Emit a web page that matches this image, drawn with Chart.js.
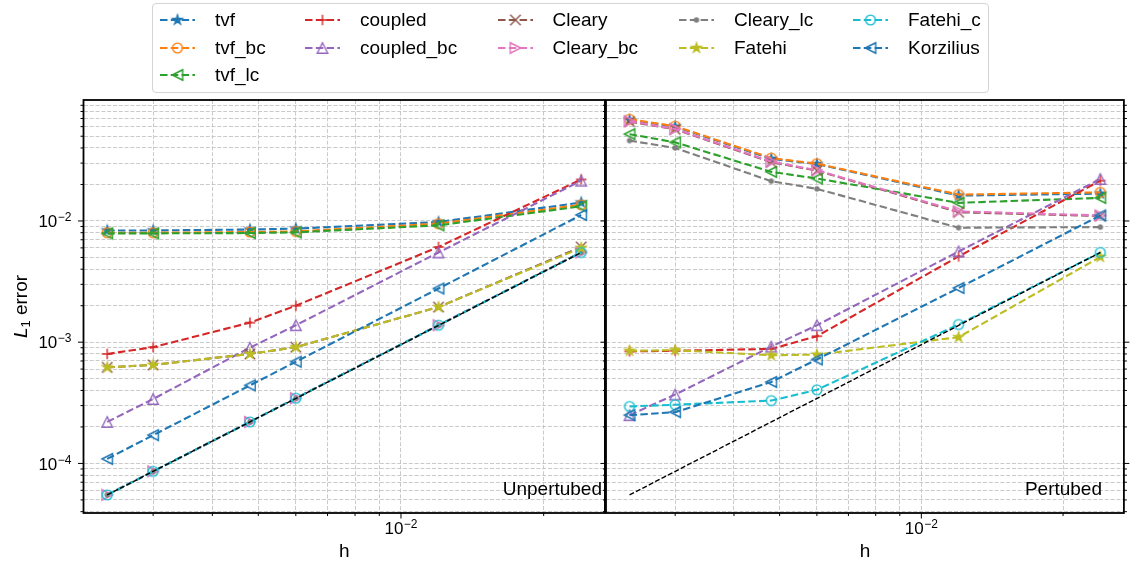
<!DOCTYPE html>
<html>
<head>
<meta charset="utf-8">
<title>L1 error vs h</title>
<script src="https://cdn.jsdelivr.net/npm/chart.js@4.4.1/dist/chart.umd.min.js"></script>
<style>
  body { margin: 0; background: #fff; }
  #wrap { position: relative; width: 1131px; height: 566px; overflow: hidden; font-family: "Liberation Sans", Arial, sans-serif; }
  #leftChart { position: absolute; left: 0; top: 0; }
  #rightChart { position: absolute; left: 596px; top: 0; }
  #legend { position: absolute; left: 152px; top: 3px; width: 837px; height: 90px; box-sizing: border-box;
            border: 1px solid #d4d4d4; border-radius: 4px; background: rgba(255,255,255,0.85); }
  .lg-item { position: absolute; width: 200px; height: 20px; }
  .lg-item canvas { position: absolute; left: 0; top: 0; }
  .lg-item span { position: absolute; left: 55px; top: 0.4px; font-size: 19px; line-height: 19px; white-space: nowrap; color: #000; }
</style>
</head>
<body>
<div id="wrap">
  <canvas id="leftChart" width="612" height="566"></canvas>
  <canvas id="rightChart" width="535" height="566"></canvas>
  <div id="legend"></div>
</div>
<script>
// grid spacing h
const hValues = [0.0024, 0.003, 0.0048, 0.006, 0.012, 0.024];

const seriesNames = ['tvf', 'tvf_bc', 'tvf_lc', 'coupled', 'coupled_bc', 'Cleary',
                     'Cleary_bc', 'Cleary_lc', 'Fatehi', 'Fatehi_c', 'Korzilius'];

// L1 error, unperturbed particles
const tvfU        = [8.35e-3, 8.35e-3, 8.5e-3, 8.65e-3, 9.8e-3, 1.42e-2];
const tvfBcU      = [8.0e-3, 8.0e-3, 8.1e-3, 8.2e-3, 9.5e-3, 1.36e-2];
const tvfLcU      = [7.9e-3, 7.9e-3, 7.95e-3, 8.05e-3, 9.2e-3, 1.32e-2];
const coupledU    = [8.0e-4, 9.1e-4, 1.45e-3, 2.0e-3, 6.1e-3, 2.2e-2];
const coupledBcU  = [2.2e-4, 3.4e-4, 9.0e-4, 1.38e-3, 5.5e-3, 2.15e-2];
const clearyU     = [6.2e-4, 6.5e-4, 8.0e-4, 9.1e-4, 1.95e-3, 6.1e-3];
const clearyBcU   = [5.5e-5, 8.6e-5, 2.2e-4, 3.45e-4, 1.38e-3, 5.5e-3];
const clearyLcU   = [5.5e-5, 8.6e-5, 2.2e-4, 3.45e-4, 1.38e-3, 5.5e-3];
const fatehiU     = [6.2e-4, 6.5e-4, 8.0e-4, 9.1e-4, 1.95e-3, 6.0e-3];
const fatehiCU    = [5.5e-5, 8.6e-5, 2.2e-4, 3.45e-4, 1.38e-3, 5.5e-3];
const korziliusU  = [1.09e-4, 1.71e-4, 4.4e-4, 6.9e-4, 2.77e-3, 1.12e-2];

// L1 error, perturbed particles
const tvfP        = [0.068, 0.060, 0.0325, 0.0295, 0.0162, 0.0168];
const tvfBcP      = [0.069, 0.0605, 0.033, 0.0297, 0.0165, 0.0172];
const tvfLcP      = [0.052, 0.0445, 0.0254, 0.0224, 0.0141, 0.0155];
const coupledP    = [8.4e-4, 8.5e-4, 8.8e-4, 1.12e-3, 5.1e-3, 2.15e-2];
const coupledBcP  = [2.5e-4, 3.7e-4, 9.2e-4, 1.38e-3, 5.6e-3, 2.22e-2];
const clearyP     = [0.066, 0.057, 0.0305, 0.026, 0.0118, 0.011];
const clearyBcP   = [0.0664, 0.0574, 0.0309, 0.0262, 0.0120, 0.0111];
const clearyLcP   = [0.046, 0.040, 0.0213, 0.0184, 8.8e-3, 8.9e-3];
const fatehiP     = [8.5e-4, 8.6e-4, 7.8e-4, 7.9e-4, 1.1e-3, 5.05e-3];
const fatehiCP    = [2.95e-4, 3.05e-4, 3.3e-4, 4.05e-4, 1.4e-3, 5.5e-3];
const korziliusP  = [2.5e-4, 2.65e-4, 4.7e-4, 7.2e-4, 2.8e-3, 1.11e-2];

// second order reference slope
const refH   = [0.0024, 0.024];
const refErr = [5.5e-5, 5.5e-3];

// labelled decades
const yMajorTicks = [1e-4, 1e-3, 1e-2];
const xMajorTicks = [1e-2];

const X_MIN = 0.002139, X_MAX = 0.02693;
const Y_MIN = 3.9e-5, Y_MAX = 0.0995;

const seriesStyle = [
  { color: '#1f77b4', marker: 'star' },
  { color: '#ff7f0e', marker: 'circle' },
  { color: '#2ca02c', marker: 'triLeft' },
  { color: '#d62728', marker: 'plus' },
  { color: '#9467bd', marker: 'triUp' },
  { color: '#8c564b', marker: 'x' },
  { color: '#e377c2', marker: 'triRight' },
  { color: '#7f7f7f', marker: 'dot' },
  { color: '#bcbd22', marker: 'star' },
  { color: '#17becf', marker: 'circle' },
  { color: '#1f77b4', marker: 'triLeft' }
];

const FONT = '"Liberation Sans", Arial, sans-serif';
const GRID = '#c4c4c4';
const LINE_W = 2.1;
const LINE_DASH = [7.5, 3.3];

function markerCanvas(kind, color)
{
  const s = 18, m = s / 2, half = 5.25;
  const c = document.createElement('canvas');
  c.width = s; c.height = s;
  const g = c.getContext('2d');
  g.strokeStyle = color;
  g.fillStyle = color;
  g.lineWidth = 1.4;
  g.beginPath();
  switch (kind)
  {
    case 'star':
      for (let i = 0; i < 10; i++)
      {
        const r = i % 2 ? half * 0.382 : half;
        const a = -Math.PI / 2 + i * Math.PI / 5;
        g.lineTo(m + r * Math.cos(a), m + r * Math.sin(a));
      }
      g.closePath();
      g.fill();
      g.lineWidth = 1.2;
      g.stroke();
      break;
    case 'circle':
      g.arc(m, m, 4.9, 0, 2 * Math.PI);
      g.stroke();
      break;
    case 'dot':
      g.arc(m, m, 2.7, 0, 2 * Math.PI);
      g.fill();
      break;
    case 'triUp':
      g.moveTo(m, m - half); g.lineTo(m - half, m + half); g.lineTo(m + half, m + half);
      g.closePath(); g.stroke();
      break;
    case 'triLeft':
      g.moveTo(m - half, m); g.lineTo(m + half, m - half); g.lineTo(m + half, m + half);
      g.closePath(); g.stroke();
      break;
    case 'triRight':
      g.moveTo(m + half, m); g.lineTo(m - half, m - half); g.lineTo(m - half, m + half);
      g.closePath(); g.stroke();
      break;
    case 'plus':
      g.moveTo(m - half, m); g.lineTo(m + half, m);
      g.moveTo(m, m - half); g.lineTo(m, m + half);
      g.stroke();
      break;
    case 'x':
      g.moveTo(m - half, m - half); g.lineTo(m + half, m + half);
      g.moveTo(m + half, m - half); g.lineTo(m - half, m + half);
      g.stroke();
      break;
  }
  return c;
}

const markers = seriesStyle.map(s => markerCanvas(s.marker, s.color));

function isMajor(v)
{
  const l = Math.log10(v);
  return Math.abs(l - Math.round(l)) < 1e-9;
}

// 1..9 x 10^n inside the axis range
function logTicks(min, max)
{
  const ticks = [];
  for (let d = Math.floor(Math.log10(min)); d <= Math.ceil(Math.log10(max)); d++)
  {
    for (let k = 1; k <= 9; k++)
    {
      const v = Number((k * Math.pow(10, d)).toPrecision(6));
      if (v >= min && v <= max) ticks.push({ value: v, major: k === 1 });
    }
  }
  return ticks;
}

function buildDatasets(seriesValues)
{
  const sets = seriesValues.map((vals, i) => ({
    label: seriesNames[i],
    data: hValues.map((h, j) => ({ x: h, y: vals[j] })),
    borderColor: seriesStyle[i].color,
    backgroundColor: seriesStyle[i].color,
    borderWidth: LINE_W,
    borderDash: LINE_DASH,
    pointStyle: markers[i],
    pointRadius: 5,
    pointHoverRadius: 5,
    tension: 0,
    fill: false,
    order: 20 - i
  }));
  sets.push({
    label: 'ref',
    data: refH.map((h, j) => ({ x: h, y: refErr[j] })),
    borderColor: '#000',
    borderWidth: 1.4,
    borderDash: [5, 2.2],
    pointRadius: 0,
    fill: false,
    order: 0
  });
  return sets;
}

function drawPow(ctx, exp, x, yMid, align)
{
  const base = '10', sup = '\u2212' + Math.abs(exp);
  ctx.font = '17px ' + FONT;
  const wb = ctx.measureText(base).width;
  ctx.font = '12px ' + FONT;
  const we = ctx.measureText(sup).width;
  const total = wb + we + 0.5;
  const left = align === 'right' ? x - total : x - total / 2;
  ctx.textAlign = 'left';
  ctx.textBaseline = 'alphabetic';
  ctx.fillStyle = '#000';
  ctx.font = '17px ' + FONT;
  ctx.fillText(base, left, yMid + 6.1);
  ctx.font = '12px ' + FONT;
  ctx.fillText(sup, left + wb + 0.5, yMid + 0.3);
}

// frame, tick marks, tick labels, axis titles and panel tag
const panelFrame = {
  id: 'panelFrame',
  afterDraw(chart, args, opts)
  {
    const { ctx, chartArea: a } = chart;
    const xs = chart.scales.x, ys = chart.scales.y;
    ctx.save();
    ctx.strokeStyle = '#000';
    ctx.lineWidth = 1;
    ctx.beginPath();
    ys.ticks.forEach(t =>
    {
      const py = ys.getPixelForValue(t.value);
      const len = isMajor(t.value) ? 5.5 : 3;
      if (opts.leftTicks) { ctx.moveTo(a.left - len, py); ctx.lineTo(a.left, py); }
      if (opts.rightTicks) { ctx.moveTo(a.right, py); ctx.lineTo(a.right + len, py); }
    });
    xs.ticks.forEach(t =>
    {
      const px = xs.getPixelForValue(t.value);
      const len = isMajor(t.value) ? 5.5 : 3;
      ctx.moveTo(px, a.bottom); ctx.lineTo(px, a.bottom + len);
    });
    ctx.stroke();

    ctx.lineWidth = 1.8;
    ctx.strokeRect(a.left, a.top, a.right - a.left, a.bottom - a.top);

    if (opts.yLabels)
    {
      yMajorTicks.forEach(v => drawPow(ctx, Math.round(Math.log10(v)), a.left - 12, ys.getPixelForValue(v), 'right'));
      // y title: italic L with subscript 1
      ctx.save();
      ctx.translate(26.5, (a.top + a.bottom) / 2);
      ctx.rotate(-Math.PI / 2);
      ctx.textBaseline = 'alphabetic';
      ctx.textAlign = 'left';
      const partL = 'italic 19px ' + FONT, partSub = '13px ' + FONT, partRest = '19px ' + FONT;
      ctx.font = partL; const wL = ctx.measureText('L').width;
      ctx.font = partSub; const wS = ctx.measureText('1').width;
      ctx.font = partRest; const wR = ctx.measureText(' error').width;
      let x0 = -(wL + wS + wR) / 2;
      ctx.font = partL; ctx.fillText('L', x0, 0); x0 += wL;
      ctx.font = partSub; ctx.fillText('1', x0, 3.5); x0 += wS;
      ctx.font = partRest; ctx.fillText(' error', x0, 0);
      ctx.restore();
    }
    xMajorTicks.forEach(v => drawPow(ctx, Math.round(Math.log10(v)), xs.getPixelForValue(v), 528, 'center'));

    ctx.fillStyle = '#000';
    ctx.font = '19px ' + FONT;
    ctx.textAlign = 'center';
    ctx.textBaseline = 'alphabetic';
    ctx.fillText('h', (a.left + a.right) / 2, 557);

    ctx.textAlign = 'right';
    ctx.fillText(opts.tag, opts.tagX, 494.5);
    ctx.restore();
  }
};

function panelConfig(seriesValues, deco, pad, yWidth)
{
  return {
    type: 'line',
    data: { datasets: buildDatasets(seriesValues) },
    plugins: [panelFrame],
    options: {
      responsive: false,
      animation: false,
      devicePixelRatio: 1,
      events: [],
      layout: { padding: pad },
      plugins: {
        legend: { display: false },
        tooltip: { enabled: false },
        panelFrame: deco
      },
      scales: {
        x: {
          type: 'logarithmic',
          position: 'bottom',
          min: X_MIN,
          max: X_MAX,
          afterBuildTicks: s => { s.ticks = logTicks(s.min, s.max); },
          afterFit: s => { s.height = 53; },
          ticks: { display: false },
          grid: { color: GRID, lineWidth: 0.9, drawTicks: false },
          border: { display: false, dash: [4, 1.8] }
        },
        y: {
          type: 'logarithmic',
          position: 'left',
          min: Y_MIN,
          max: Y_MAX,
          afterBuildTicks: s => { s.ticks = logTicks(s.min, s.max); },
          afterFit: s => { s.width = yWidth; },
          ticks: { display: false },
          grid: { color: GRID, lineWidth: 0.9, drawTicks: false },
          border: { display: false, dash: [4, 1.8] }
        }
      }
    }
  };
}

const unperturbed = [tvfU, tvfBcU, tvfLcU, coupledU, coupledBcU, clearyU, clearyBcU, clearyLcU, fatehiU, fatehiCU, korziliusU];
const perturbed = [tvfP, tvfBcP, tvfLcP, coupledP, coupledBcP, clearyP, clearyBcP, clearyLcP, fatehiP, fatehiCP, korziliusP];

new Chart(document.getElementById('leftChart'),
  panelConfig(unperturbed,
    { leftTicks: true, rightTicks: false, yLabels: true, tag: 'Unpertubed', tagX: 602 },
    { top: 100, left: 0, right: 6, bottom: 0 }, 83.5));

new Chart(document.getElementById('rightChart'),
  panelConfig(perturbed,
    { leftTicks: true, rightTicks: true, yLabels: false, tag: 'Pertubed', tagX: 506 },
    { top: 100, left: 10, right: 2, bottom: 0 }, 0));

// legend, filled column by column
const legendCols = [[0, 1, 2], [3, 4], [5, 6], [7, 8], [9, 10]];
const legendColX = [160, 305, 497.5, 679, 853];
const legendRowY = [20, 47.5, 75];
const legendBox = document.getElementById('legend');

legendCols.forEach((col, ci) =>
{
  col.forEach((si, ri) =>
  {
    const item = document.createElement('div');
    item.className = 'lg-item';
    item.style.left = (legendColX[ci] - 153) + 'px';
    item.style.top = (legendRowY[ri] - 10 - 4) + 'px';

    const cv = document.createElement('canvas');
    cv.width = 38; cv.height = 20;
    const g = cv.getContext('2d');
    g.strokeStyle = seriesStyle[si].color;
    g.lineWidth = LINE_W;
    g.setLineDash(LINE_DASH);
    g.beginPath();
    g.moveTo(0, 10);
    g.lineTo(35, 10);
    g.stroke();
    g.drawImage(markers[si], 17.5 - 9, 10 - 9);
    item.appendChild(cv);

    const label = document.createElement('span');
    label.textContent = seriesNames[si];
    item.appendChild(label);
    legendBox.appendChild(item);
  });
});
</script>
</body>
</html>
